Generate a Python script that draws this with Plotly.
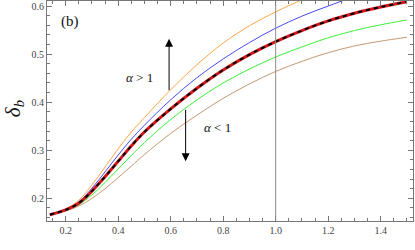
import plotly.graph_objects as go

# sample positions (x) and read-off values for each curve
x_vals = [0.14, 0.2, 0.25, 0.3, 0.35, 0.4, 0.45, 0.5, 0.6, 0.7, 0.8, 0.9, 1.0, 1.1, 1.2, 1.3, 1.4, 1.5]
orange = [0.166, 0.178, 0.196, 0.228, 0.265, 0.303, 0.338, 0.368, 0.426, 0.478, 0.523, 0.559, 0.588, 0.613, 0.635]
blue = [0.166, 0.177, 0.193, 0.221, 0.255, 0.290, 0.323, 0.352, 0.405, 0.451, 0.490, 0.524, 0.554, 0.579, 0.600, 0.620]
alpha1 = [0.166, 0.176, 0.190, 0.215, 0.245, 0.277, 0.309, 0.338, 0.386, 0.429, 0.467, 0.499, 0.526, 0.549, 0.569, 0.585, 0.598, 0.609]
green = [0.166, 0.175, 0.187, 0.207, 0.233, 0.261, 0.289, 0.316, 0.364, 0.405, 0.440, 0.469, 0.494, 0.515, 0.534, 0.549, 0.561, 0.571]
brown = [0.166, 0.174, 0.184, 0.200, 0.220, 0.243, 0.267, 0.291, 0.335, 0.373, 0.408, 0.438, 0.464, 0.485, 0.503, 0.517, 0.527, 0.535]

x_ticks = [0.2, 0.4, 0.6, 0.8, 1.0, 1.2, 1.4]
x_tick_text = ["0.2", "0.4", "0.6", "0.8", "1.0", "1.2", "1.4"]
y_ticks = [0.2, 0.3, 0.4, 0.5, 0.6]
y_tick_text = ["0.2", "0.3", "0.4", "0.5", "0.6"]

SERIF = "Liberation Serif, Times New Roman, serif"

fig = go.Figure()

def add_line(y, color, width, dash="solid"):
    n = len(y)
    fig.add_trace(go.Scatter(x=x_vals[:n], y=y, mode="lines",
                             line=dict(color=color, width=width, dash=dash, shape="spline", smoothing=1.0),
                             showlegend=False, hoverinfo="skip"))

add_line(brown, "#C49A74", 1)
add_line(green, "#3CF03C", 1)
add_line(blue, "#4A4AF5", 1)
add_line(orange, "#FFA54A", 1)
add_line(alpha1, "#D01818", 3)
add_line(alpha1, "#000000", 2, dash="4px,4px")

fig.add_shape(type="line", xref="x", yref="paper", x0=1.0, x1=1.0, y0=0, y1=1,
              line=dict(color="#8a8a8a", width=1))

# arrows
fig.add_annotation(x=0.594, y=0.532, ax=0.594, ay=0.404, xref="x", yref="y", axref="x", ayref="y",
                   showarrow=True, arrowhead=2, arrowsize=1.6, arrowwidth=1, arrowcolor="#000", text=" ")
fig.add_annotation(x=0.657, y=0.277, ax=0.657, ay=0.405, xref="x", yref="y", axref="x", ayref="y",
                   showarrow=True, arrowhead=2, arrowsize=1.6, arrowwidth=1, arrowcolor="#000", text=" ")

fig.add_annotation(x=0.48, y=0.452, xref="x", yref="y", showarrow=False,
                   text="<i>α</i> > 1", font=dict(family=SERIF, size=13, color="#111"))
fig.add_annotation(x=0.78, y=0.348, xref="x", yref="y", showarrow=False,
                   text="<i>α</i> < 1", font=dict(family=SERIF, size=13, color="#111"))
fig.add_annotation(x=0.218, y=0.568, xref="x", yref="y", showarrow=False,
                   text="(b)", font=dict(family=SERIF, size=15, color="#111"))
# y-axis title
fig.add_annotation(x=-0.092, y=0.51, xref="paper", yref="paper", showarrow=False, textangle=-90,
                   xanchor="center", yanchor="middle",
                   text="<i>δ<sub>b</sub></i>", font=dict(family=SERIF, size=21, color="#111"))

axis_common = dict(showline=True, linecolor="#777", linewidth=1, mirror="allticks",
                   ticks="inside", tickcolor="#777", ticklen=5, tickwidth=1,
                   showgrid=False, zeroline=False, automargin=False,
                   tickfont=dict(family=SERIF, size=10, color="#444"))

fig.update_xaxes(range=[0.129, 1.523], tickvals=x_ticks, ticktext=x_tick_text,
                 minor=dict(dtick=0.05, tick0=0, ticks="inside", ticklen=3, tickcolor="#777", showgrid=False),
                 **axis_common)
fig.update_yaxes(range=[0.1529, 0.6105], tickvals=y_ticks, ticktext=y_tick_text,
                 minor=dict(dtick=0.02, tick0=0, ticks="inside", ticklen=3, tickcolor="#777", showgrid=False),
                 **axis_common)

fig.update_layout(width=415, height=250, margin=dict(l=47, r=2, t=1, b=29),
                  plot_bgcolor="white", paper_bgcolor="white")

fig.write_html("out.html", config={"displayModeBar": False},
               post_script="document.body.style.margin='0';document.body.style.padding='0';")
